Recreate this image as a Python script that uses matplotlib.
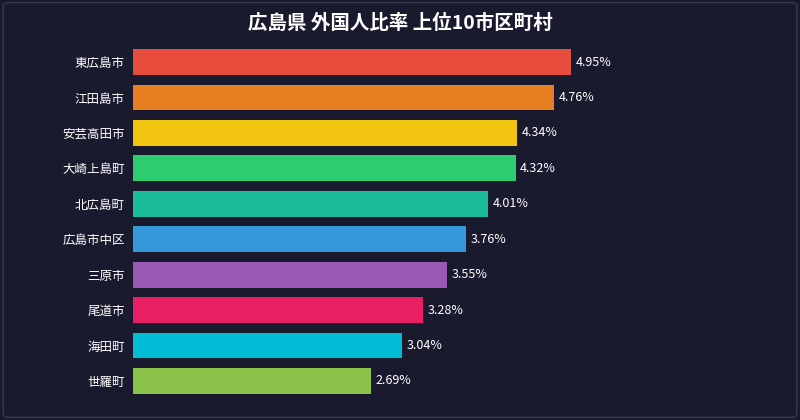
import matplotlib
matplotlib.use("Agg")
import matplotlib.pyplot as plt
from matplotlib.patches import FancyBboxPatch

plt.rcParams['font.family'] = ['Noto Sans CJK JP', 'DejaVu Sans']

names = ["東広島市", "江田島市", "安芸高田市", "大崎上島町", "北広島町", "広島市中区", "三原市", "尾道市", "海田町", "世羅町"]
values = [4.95, 4.76, 4.34, 4.32, 4.01, 3.76, 3.55, 3.28, 3.04, 2.69]
colors = ["#e74c3c", "#e67e22", "#f1c40f", "#2ecc71", "#1abc9c", "#3498db", "#9b59b6", "#e91e63", "#00bcd4", "#8bc34a"]

bg = "#1a1a2e"
fig = plt.figure(figsize=(8, 4.2), dpi=100, facecolor=bg)
fig.patches.append(FancyBboxPatch((0.004, 0.006), 0.992, 0.988, boxstyle="round,pad=0,rounding_size=0.008",
                                  transform=fig.transFigure, fill=False, edgecolor="#3a3a55", linewidth=1))
ax = fig.add_axes([133/800, 0.0507, 487/800, 0.8438])
ax.set_facecolor(bg)
y = list(range(len(names)))
ax.barh(y, values, color=colors, height=0.73)
ax.set_ylim(len(names) - 0.5, -0.5)
ax.set_xlim(0, 5.5)
ax.set_yticks(y)
ax.set_yticklabels(names, color="white", fontsize=9)
ax.tick_params(axis='y', length=0, pad=6)
ax.set_xticks([])
for s in ax.spines.values():
    s.set_visible(False)
for yi, v in zip(y, values):
    ax.text(v + 0.05, yi, f"{v:.2f}%", va="center", ha="left", color="white", fontsize=9)
fig.text(0.5, 0.945, "広島県 外国人比率 上位10市区町村", ha="center", va="center", color="white",
         fontsize=14, fontweight="bold")
fig.savefig("out.png", dpi=100, facecolor=bg)
